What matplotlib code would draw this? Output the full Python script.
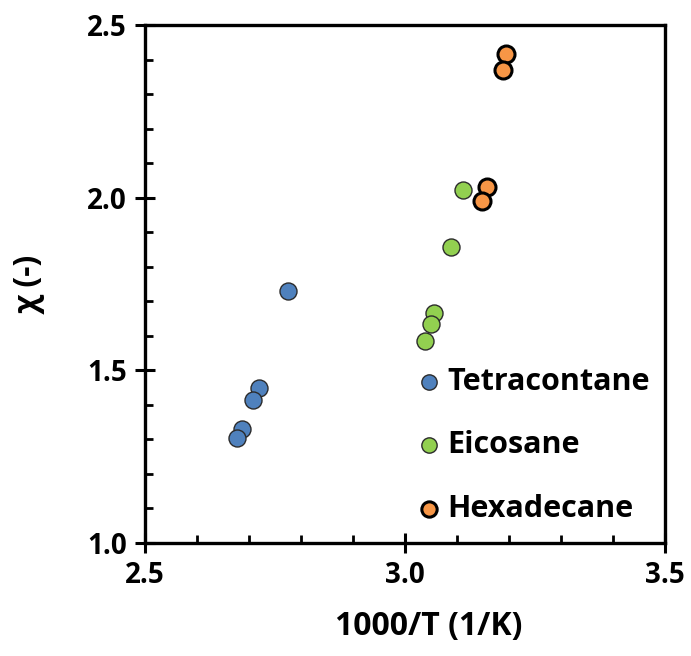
import matplotlib
matplotlib.use("Agg")
import matplotlib.pyplot as plt
from matplotlib.ticker import MultipleLocator

plt.rcParams['font.family'] = ['Open Sans', 'DejaVu Sans']
plt.rcParams['font.weight'] = 'bold'

# Inverse temperature (1000/T, 1/K) and chi values per alkane
tetra_x = [2.775, 2.719, 2.708, 2.687, 2.677]
tetra_y = [1.730, 1.450, 1.415, 1.330, 1.304]

eico_x = [3.111, 3.089, 3.056, 3.050, 3.039]
eico_y = [2.021, 1.856, 1.667, 1.634, 1.585]

hexa_x = [3.194, 3.188, 3.157, 3.149]
hexa_y = [2.415, 2.371, 2.030, 1.990]

series_names = ["Tetracontane", "Eicosane", "Hexadecane"]
x_ticks = [2.5, 3.0, 3.5]
y_ticks = [1.0, 1.5, 2.0, 2.5]

fig = plt.figure(figsize=(6.91, 6.56), dpi=100)
ax = fig.add_axes([145 / 691, 1 - 543 / 656, (665 - 145) / 691, (543 - 25) / 656])

ax.scatter(tetra_x, tetra_y, s=150, c="#4F81BD", edgecolors="#2b2b2b",
           linewidths=1.0, label=series_names[0], zorder=3)
ax.scatter(eico_x, eico_y, s=150, c="#92D050", edgecolors="#2b2b2b",
           linewidths=1.0, label=series_names[1], zorder=3)
ax.scatter(hexa_x, hexa_y, s=150, c="#F79646", edgecolors="black",
           linewidths=2.2, label=series_names[2], zorder=3)

ax.set_xlim(2.5, 3.5)
ax.set_ylim(1.0, 2.5)
ax.set_xticks(x_ticks)
ax.set_yticks(y_ticks)
ax.set_xticklabels([f"{v:.1f}" for v in x_ticks])
ax.set_yticklabels([f"{v:.1f}" for v in y_ticks])
ax.xaxis.set_minor_locator(MultipleLocator(0.1))
ax.yaxis.set_minor_locator(MultipleLocator(0.1))

for sp in ax.spines.values():
    sp.set_linewidth(2.4)

ax.tick_params(which="major", direction="inout", length=14, width=2.2,
               labelsize=20, pad=6)
ax.tick_params(which="minor", direction="in", length=6, width=2.0)
ax.tick_params(top=False, right=False, which="both")

ax.set_xlabel("1000/T (1/K)", fontsize=23, fontweight="bold", labelpad=14,
              x=0.545)
ax.set_ylabel("χ (-)", fontsize=23, fontweight="bold", labelpad=30)

leg = ax.legend(loc="lower right", bbox_to_anchor=(1.008, 0.0), frameon=False,
                fontsize=22, markerscale=0.9, handletextpad=0.1,
                labelspacing=1.1, borderaxespad=0.22, handlelength=1.0)
for t in leg.get_texts():
    t.set_fontweight("bold")

fig.savefig("out.png", dpi=100)
